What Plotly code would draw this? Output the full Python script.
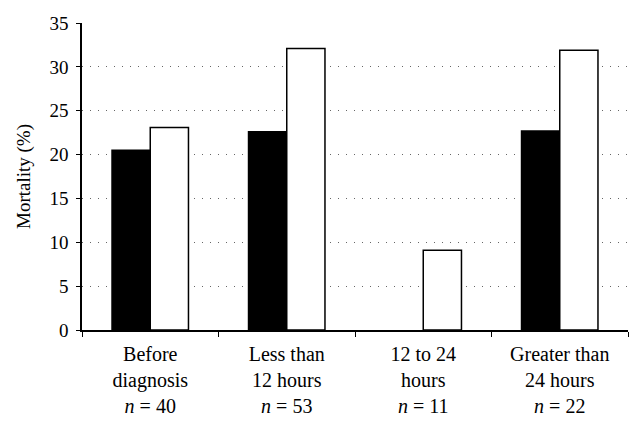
import plotly.graph_objects as go

categories = ["Before<br>diagnosis<br><i>n</i> = 40",
              "Less than<br>12 hours<br><i>n</i> = 53",
              "12 to 24<br>hours<br><i>n</i> = 11",
              "Greater than<br>24 hours<br><i>n</i> = 22"]
series_black = [20.5, 22.6, 0, 22.7]
series_white = [23.1, 32.1, 9.1, 31.9]
y_ticks = [0, 5, 10, 15, 20, 25, 30, 35]

FONT = "Liberation Serif, Times New Roman, serif"

black_line_w = [1.5 if v > 0 else 0 for v in series_black]

fig = go.Figure()
fig.add_trace(go.Bar(x=categories, y=series_black,
                     marker=dict(color="black", line=dict(color="black", width=black_line_w)),
                     showlegend=False, hoverinfo="skip"))
fig.add_trace(go.Bar(x=categories, y=series_white,
                     marker=dict(color="white", line=dict(color="black", width=1.5)),
                     showlegend=False, hoverinfo="skip"))

fig.update_layout(
    width=643, height=425,
    margin=dict(l=82, r=15, t=23, b=95),
    plot_bgcolor="white", paper_bgcolor="white",
    barmode="group", bargap=0.44, bargroupgap=0,
    font=dict(family=FONT, color="black", size=19),
)
fig.update_xaxes(type="category", tickson="boundaries", ticks="outside", ticklen=5, tickcolor="black",
                 showline=True, linecolor="black", linewidth=1.5, showgrid=False, automargin=False,
                 ticklabelstandoff=5,
                 tickfont=dict(size=20, family=FONT))
fig.update_yaxes(range=[0, 35], tickvals=y_ticks, ticks="outside", ticklen=4, tickcolor="black",
                 showline=True, linecolor="black", linewidth=1.5, automargin=False,
                 ticklabelstandoff=4,
                 showgrid=True, gridcolor="#666666", griddash="1px,7px", gridwidth=1,
                 zeroline=False, tickfont=dict(size=19, family=FONT),
                 title=dict(text="Mortality (%)", font=dict(size=19, family=FONT), standoff=14))

fig.write_html("out.html", config={"displayModeBar": False},
               post_script="document.body.style.margin='0px';")
